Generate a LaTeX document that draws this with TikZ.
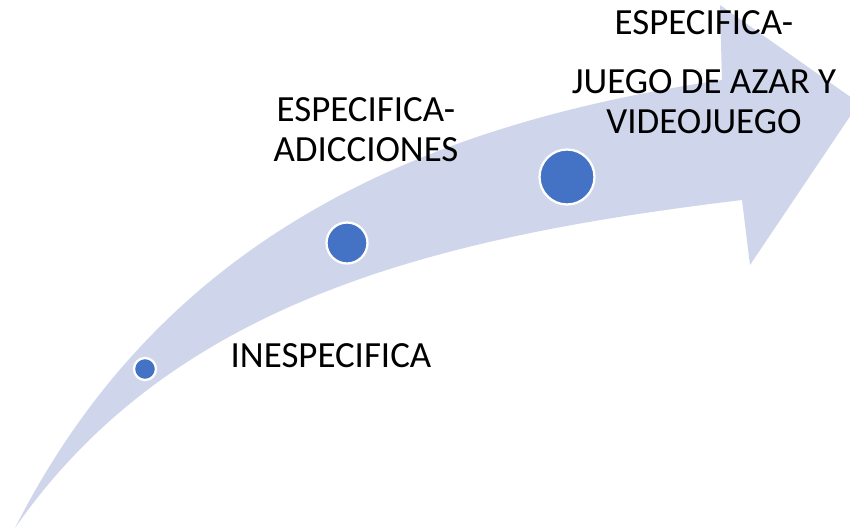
\documentclass[tikz,border=0pt]{standalone}
\usepackage{fontspec}
\setmainfont{Carlito}
\usepackage{tikz}
\definecolor{bandblue}{HTML}{CFD5EA}
\definecolor{dotblue}{HTML}{4472C4}
\tikzset{
  dot/.style={circle, fill=dotblue, draw=white, line width=1.3pt, inner sep=0pt},
  label text/.style={align=center, font=\fontsize{21}{22.7}\selectfont, inner sep=0pt}
}

\begin{document}
\begin{tikzpicture}[x=0.02cm, y=-0.02cm]

\useasboundingbox (0,0) rectangle (850,531);

%%%%%%%%%%%%%%%%%%%%%%%%%%%%%%%
% curved band with its head
\fill[bandblue] (15,528) .. controls (164,234) and (425,124) .. (722,80)
 -- (720,5) -- (859,103) -- (750,265) -- (742,200)
 .. controls (444,236) and (175,298) .. (15,528) -- cycle;

%%%%%%%%%%%%%%%%%%%%%%%%%%%%%%%
\node[dot, minimum size=0.44cm] (d1) at (145,369) {};
\node[dot, minimum size=0.82cm] (d2) at (347,243) {};
\node[dot, minimum size=1.1cm] (d3) at (567,177) {};

%%%%%%%%%%%%%%%%%%%%%%%%%%%%%%%
\node[label text] (t1) at (331,356) {INESPECIFICA};
\node[label text] (t2) at (366,130) {ESPECIFICA-\\ADICCIONES};
\node[label text] (t3) at (704,23) {ESPECIFICA-};
\node[label text] (t4) at (704,102) {JUEGO DE AZAR Y\\VIDEOJUEGO};

\end{tikzpicture}
\end{document}
